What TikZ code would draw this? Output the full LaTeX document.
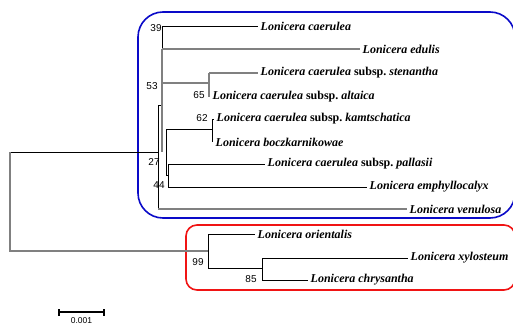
\documentclass[tikz,border=0pt]{standalone}
\usepackage{fontspec}
\setmainfont{Liberation Serif}
\newfontfamily\bootfont{Liberation Sans}
\usetikzlibrary{positioning}
\definecolor{cladeblue}{RGB}{10,10,200}
\definecolor{cladered}{RGB}{240,20,20}
\tikzset{taxon/.style = {anchor=west, inner xsep=2.5pt, inner ysep=0pt,
                         font=\fontsize{12}{12}\selectfont\bfseries\itshape},
         boot/.style = {inner sep=0pt, font=\bootfont\fontsize{10}{10}\selectfont},
         br/.style = {line width=0.8pt},
         grbr/.style = {line width=1.2pt, gray},
         clade/.style = {line width=1.6pt}}
\newcommand{\ssp}{{\upshape subsp.}}

\begin{document}
\begin{tikzpicture}[x=1pt, y=-1pt]
    \useasboundingbox (0,0) rectangle (513,324);

    % clade frames
    \draw [clade, cladeblue, rounded corners=25pt] (138,12) rectangle (515,218);
    \draw [clade, cladered, rounded corners=11pt] (186,225) rectangle (515,290);

    % taxa
    \node [taxon] (caerulea) at (258,26) {Lonicera caerulea};
    \node [taxon] (edulis) at (360,49) {Lonicera edulis};
    \node [taxon] (stenantha) at (258,73) {Lonicera caerulea \ssp\ stenantha};
    \node [taxon] (altaica) at (210,97) {Lonicera caerulea \ssp\ altaica};
    \node [taxon] (kamtschatica) at (214,119) {Lonicera caerulea \ssp\ kamtschatica};
    \node [taxon] (boczkarnikowae) at (213,142) {Lonicera boczkarnikowae};
    \node [taxon] (pallasii) at (265,164) {Lonicera caerulea \ssp\ pallasii};
    \node [taxon] (emphyllocalyx) at (367,187) {Lonicera emphyllocalyx};
    \node [taxon] (venulosa) at (407,209) {Lonicera venulosa};
    \node [taxon] (orientalis) at (255,234) {Lonicera orientalis};
    \node [taxon] (xylosteum) at (408,258) {Lonicera xylosteum};
    \node [taxon] (chrysantha) at (308,280) {Lonicera chrysantha};

    % internal nodes
    \coordinate (root) at (10,152);
    \coordinate (base) at (158,152);
    \coordinate (n39) at (162,26);
    \coordinate (n53) at (162,83);
    \coordinate (n65) at (209,83);
    \coordinate (n27) at (166,129);
    \coordinate (n62) at (212,129);
    \coordinate (n44) at (168,175);
    \coordinate (n99) at (208,251);
    \coordinate (n85) at (262,268);

    % caerulea group
    \draw [br] (root) -- (base);
    \draw [br] (158,105) -- (162,105);
    \draw [br] (158,105) -- (158,209);
    \draw [grbr] (158,209) -- (venulosa.west);
    \draw [grbr] (162,49) -- (162,152);
    \draw [br] (n39) -- (162,49);
    \draw [br] (n39) -- (caerulea.west);
    \draw [grbr] (162,49) -- (edulis.west);
    \draw [grbr] (n53) -- (n65);
    \draw [grbr] (n65 |- stenantha) -- (n65 |- altaica);
    \draw [grbr] (n65 |- stenantha) -- (stenantha.west);
    \draw [br] (n27) -- (n62);
    \draw [br] (n62 |- kamtschatica) -- (n62 |- boczkarnikowae);
    \draw [br] (n62 |- kamtschatica) -- (kamtschatica.west);
    \draw [br] (n27) -- (n27 |- n44) -- (n44);
    \draw [br] (n44 |- pallasii) -- (n44 |- emphyllocalyx);
    \draw [br] (n44 |- pallasii) -- (pallasii.west);
    \draw [br] (n44 |- emphyllocalyx) -- (emphyllocalyx.west);

    % xylosteum group
    \draw [grbr] (root) -- (root |- n99) -- (n99);
    \draw [br] (n99 |- orientalis) -- (n99 |- n85);
    \draw [br] (n99 |- orientalis) -- (orientalis.west);
    \draw [br] (n99 |- n85) -- (n85);
    \draw [br] (n85 |- xylosteum) -- (n85 |- chrysantha);
    \draw [br] (n85 |- xylosteum) -- (xylosteum.west);
    \draw [br] (n85 |- chrysantha) -- (chrysantha.west);

    % bootstrap values
    \node [boot] (bs39) at (156,28) {39};
    \node [boot] (bs53) at (152,86) {53};
    \node [boot] (bs65) at (199,95) {65};
    \node [boot] (bs62) at (202,118) {62};
    \node [boot] (bs27) at (154,162) {27};
    \node [boot] (bs44) at (159,185) {44};
    \node [boot] (bs99) at (198,262) {99};
    \node [boot] (bs85) at (251,279) {85};

    % scale bar
    \coordinate (sbl) at (59,312);
    \coordinate (sbr) at (104,312);
    \draw [line width=1.3pt] (sbl) -- (sbr);
    \draw [line width=1.3pt] ([yshift=-3.5pt]sbl) -- ([yshift=3.5pt]sbl);
    \draw [line width=1.3pt] ([yshift=-3.5pt]sbr) -- ([yshift=3.5pt]sbr);
    \node [boot, anchor=north, font=\bootfont\fontsize{8.5}{8.5}\selectfont] (sblabel) at (81.5,317) {0.001};
  \end{tikzpicture}
\end{document}
